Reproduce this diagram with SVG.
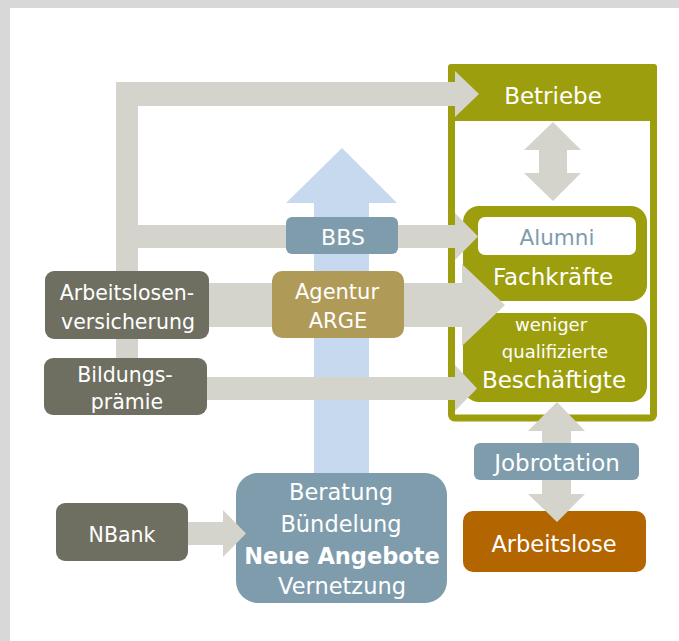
<svg xmlns="http://www.w3.org/2000/svg" width="679" height="641" viewBox="0 0 679 641">
<style>
text{font-family:"DejaVu Sans","Liberation Sans",sans-serif;fill:#fff;text-anchor:middle}
.olive{fill:#9d9e0e}
.dark{fill:#6f6f61}
.blue{fill:#7e9cac}
.arr{fill:#d4d4cc}
</style>
<rect x="0" y="0" width="679" height="641" fill="#d8d8d8"/>
<rect x="10" y="8" width="669" height="633" fill="#ffffff"/>

<g id="betriebe-frame">
<rect x="451.5" y="67.5" width="202" height="350.5" rx="3" fill="none" stroke="#9d9e0e" stroke-width="7"/>
<path class="olive" d="M451 64 H654 Q657 64 657 67 V121 H448 V67 Q448 64 451 64 Z"/>
<text x="553" y="104" font-size="23">Betriebe</text>
</g>
<g id="fachkraefte">
<rect class="olive" x="463" y="206" width="184" height="95" rx="16"/>
<rect x="478" y="217" width="158" height="38" rx="7" fill="#ffffff"/>
<text x="557" y="245" font-size="21.5" style="fill:#7e9cac">Alumni</text>
<text x="553" y="285" font-size="23">Fachkräfte</text>
</g>
<g id="beschaeftigte">
<rect class="olive" x="463" y="313" width="184" height="89" rx="16"/>
<text x="551" y="331" font-size="18">weniger</text>
<text x="555" y="358" font-size="18">qualifizierte</text>
<text x="554" y="388" font-size="23">Beschäftigte</text>
</g>
<g id="beratung">
<rect class="blue" x="236" y="473" width="211" height="130" rx="22"/>
<text x="341" y="500" font-size="22.5">Beratung</text>
<text x="341" y="532" font-size="22.5">Bündelung</text>
<text x="342" y="564" font-size="22.5" font-weight="bold">Neue Angebote</text>
<text x="342" y="594" font-size="22.5">Vernetzung</text>
</g>
<g id="arbeitslose">
<rect x="463" y="511" width="183" height="61" rx="10" fill="#b36500"/>
<text x="554" y="552" font-size="22.5">Arbeitslose</text>
</g>

<g id="connectors">
<polygon points="342,148 397,203 369,203 369,473 314,473 314,203 286,203" fill="#c6d9ef"/>
<g class="arr">
<rect x="116" y="82" width="22" height="308"/>
<polygon points="116,82 455,82 455,71 479,94 455,117 455,106 116,106"/>
<polygon points="138,225 455,225 455,213 478,236.5 455,260 455,248 138,248"/>
<polygon points="209,283 462,283 462,264 505,305 462,346 462,327 209,327"/>
<polygon points="207,377 455,377 455,365 477,388.5 455,411 455,400 207,400"/>
<polygon points="553,122 581,150 567,150 567,173 581,173 553,201 524,173 539,173 539,150 524,150"/>
<polygon points="557,402 585,431 571,431 571,494 585,494 557,522 528,494 542,494 542,431 528,431"/>
<polygon points="188,522 223,522 223,510 246,533.5 223,557 223,545 188,545"/>
</g>
</g>

<g id="bbs">
<rect class="blue" x="286" y="217" width="112" height="37" rx="6"/>
<text x="343" y="245" font-size="22">BBS</text>
</g>
<g id="agentur">
<rect x="272" y="271" width="132" height="67" rx="10" fill="#b09a57"/>
<text x="337" y="299" font-size="21">Agentur</text>
<text x="338" y="328" font-size="21">ARGE</text>
</g>
<g id="arbeitslosenversicherung">
<rect class="dark" x="45" y="271" width="164" height="68" rx="9"/>
<text x="127" y="300" font-size="20.5">Arbeitslosen-</text>
<text x="128" y="329" font-size="20.5">versicherung</text>
</g>
<g id="bildungspraemie">
<rect class="dark" x="44" y="358" width="163" height="57" rx="9"/>
<text x="125" y="382" font-size="20.5">Bildungs-</text>
<text x="127" y="409" font-size="20.5">prämie</text>
</g>
<g id="nbank">
<rect class="dark" x="56" y="503" width="132" height="58" rx="9"/>
<text x="122" y="542" font-size="20.5">NBank</text>
</g>
<g id="jobrotation">
<rect class="blue" x="474" y="443" width="165" height="37" rx="6"/>
<text x="557" y="471" font-size="23">Jobrotation</text>
</g>
</svg>
